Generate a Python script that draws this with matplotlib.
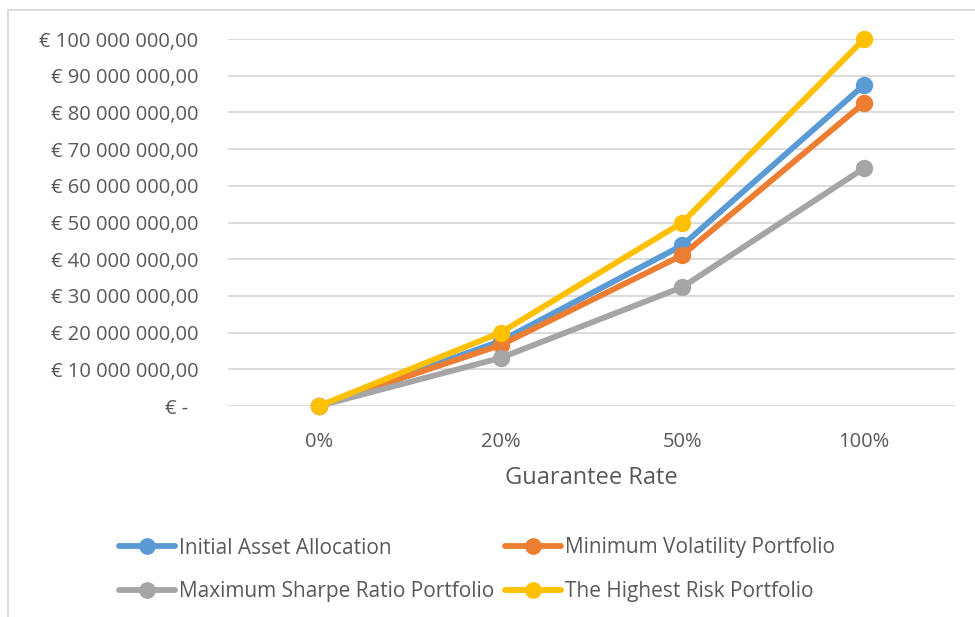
import matplotlib
matplotlib.use("Agg")
import matplotlib.pyplot as plt
from matplotlib.patches import Rectangle
from matplotlib.ticker import FuncFormatter, MultipleLocator

categories = ["0%", "20%", "50%", "100%"]
initial_asset = [0, 17.7e6, 43.8e6, 87.5e6]
min_volatility = [0, 16.6e6, 41.1e6, 82.6e6]
max_sharpe = [0, 13.1e6, 32.4e6, 64.8e6]
highest_risk = [0, 20.0e6, 50.0e6, 100.0e6]

series_names = ["Initial Asset Allocation", "Minimum Volatility Portfolio",
                "Maximum Sharpe Ratio Portfolio", "The Highest Risk Portfolio"]
colors = ["#5B9BD5", "#ED7D31", "#A5A5A5", "#FFC000"]

FONT = "Open Sans"
TXT = "#595959"

fig = plt.figure(figsize=(9.75, 6.17), dpi=100)
ax = fig.add_axes([228/975, 1-406/617, (955-228)/975, (406-39)/617])

x = list(range(len(categories)))
lines = []
for name, vals, c in zip(series_names,
                         [initial_asset, min_volatility, max_sharpe, highest_risk],
                         colors):
    ln, = ax.plot(x, vals, color=c, lw=4.2, marker="o", markersize=11.5,
                  solid_capstyle="round", label=name, clip_on=False)
    lines.append(ln)

ax.set_xlim(-0.5, 3.5)
ax.set_ylim(0, 100e6)
ax.set_xticks(x)
ax.set_xticklabels(categories)
ax.yaxis.set_major_locator(MultipleLocator(10e6))

def fmt(v, pos):
    if abs(v) < 1:
        return "€ -  "
    return "€ " + f"{int(round(v)):,}".replace(",", " ") + ",00"

ax.yaxis.set_major_formatter(FuncFormatter(fmt))
ax.grid(axis="y", color="#d9d9d9", lw=1.3)
ax.set_axisbelow(True)
for s in ax.spines.values():
    s.set_visible(False)
ax.tick_params(axis="y", length=0, colors=TXT, labelsize=14.5, pad=21.5)
ax.tick_params(axis="x", length=0, colors=TXT, labelsize=14.5, pad=19)
for t in ax.get_xticklabels() + ax.get_yticklabels():
    t.set_fontfamily(FONT)
ax.set_xlabel("Guarantee Rate", fontsize=17, color=TXT, fontfamily=FONT, labelpad=9.5)

# legend: four single-entry legends placed like the reference's two-by-two grid
legend_pos = {0: (119/975, 1-548/617), 1: (505/975, 1-548/617),
              2: (119/975, 1-592/617), 3: (505/975, 1-592/617)}
for i, ln in enumerate(lines):
    leg = fig.legend([ln], [series_names[i]], loc="center left",
                     bbox_to_anchor=legend_pos[i], frameon=False,
                     borderpad=0, borderaxespad=0,
                     handlelength=2.7, handletextpad=0.2,
                     prop={"family": FONT, "size": 15})
    for t in leg.get_texts():
        t.set_color(TXT)
    for h in leg.legend_handles:
        h.set_markersize(11)

fig.patches.append(Rectangle((8/975, -0.1), 1.1, 1.1 - 10/617, transform=fig.transFigure,
                             fill=False, edgecolor="#d9d9d9", lw=1.3))

fig.savefig("out.png", dpi=100)
